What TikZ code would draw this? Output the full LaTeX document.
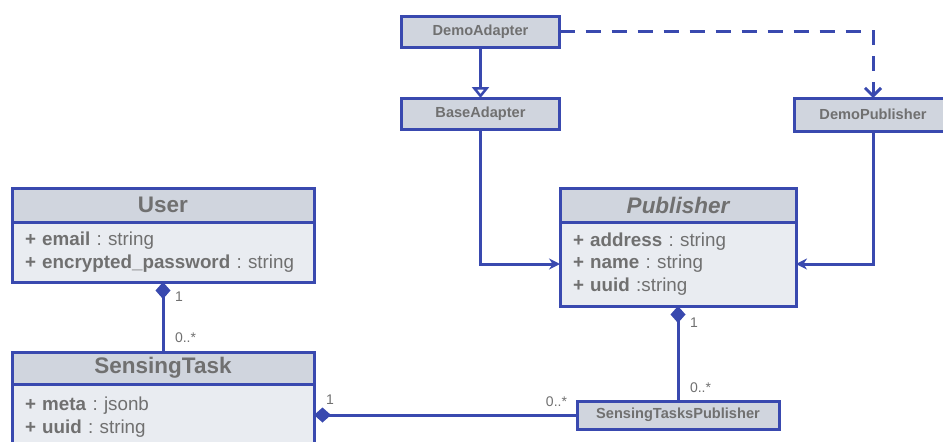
\documentclass[tikz,border=0pt]{standalone}
\usepackage{fontspec}
\setmainfont{Liberation Sans}
\usetikzlibrary{arrows.meta,positioning}
\definecolor{umlblue}{RGB}{57,73,175}
\definecolor{hdrcol}{RGB}{208,213,222}
\definecolor{bodycol}{RGB}{233,236,241}
\definecolor{txtcol}{RGB}{112,112,112}
\frenchspacing

\begin{document}
\begin{tikzpicture}[
  x=1pt, y=1pt,
  every node/.style={text=txtcol, outer sep=0pt},
  box/.style={draw=umlblue, line width=3pt, fill=hdrcol, align=center},
  small/.style={box, font=\fontsize{14.6}{17}\selectfont\bfseries, minimum width=158pt, minimum height=31pt, inner sep=0pt},
  head/.style={box, font=\fontsize{22.5}{26}\selectfont\bfseries, minimum height=34pt, inner sep=0pt},
  attrs/.style={box, fill=bodycol, font=\fontsize{18.8}{22.5}\selectfont, align=left, inner xsep=13pt, inner ysep=0pt},
  mult/.style={font=\fontsize{14}{16}\selectfont, inner sep=0pt},
  link/.style={draw=umlblue, line width=3pt},
  comp/.style={link, {Diamond[length=17pt,width=15pt]}-},
  inherit/.style={link, -{Triangle[open,length=11pt,width=17pt,line width=2.5pt]}},
  assoc/.style={link, -{Stealth[length=11pt,width=11pt]}},
  real/.style={link, dash pattern=on 15pt off 11pt, -{Straight Barb[length=8pt,width=16pt]}},
]
  \useasboundingbox (0,0) rectangle (943,-442);
  \clip (0,0) rectangle (943,-442);
  % adapters
  \node[small] (demo) at (480.5,-31.5) {DemoAdapter};
  \node[small, below=51pt of demo] (base) {BaseAdapter};
  \node[small, minimum height=33pt] (demopub) at (873,-114.5) {DemoPublisher};
  % Publisher class
  \node[head, minimum width=236pt] (pub) at (678,-205) {\itshape Publisher};
  \node[attrs, below=0pt of pub, text width=210pt, minimum height=84pt] (pubattr)
    {\textbf{+ address} : string\\\textbf{+ name} : string\\\textbf{+ uuid} :string};
  \node[small, minimum width=202pt, minimum height=28pt] (stp) at (678,-415) {SensingTasksPublisher};
  % User and SensingTask classes
  \node[head, minimum width=302pt] (user) at (163,-205) {User};
  \node[attrs, below=0pt of user, text width=276pt, minimum height=60pt] (userattr)
    {\textbf{+ email} : string\\\textbf{+ encrypted\_password} : string};
  \node[head, minimum width=302pt, minimum height=32pt] (task) at (163,-368) {SensingTask};
  \node[attrs, below=0pt of task, text width=276pt, minimum height=66pt] (taskattr)
    {\textbf{+ meta} : jsonb\\\textbf{+ uuid} : string};
  % connectors
  \draw[inherit] (demo) -- (base);
  \draw[real] (demo.east) -| (demopub.north);
  \draw[assoc] (base.south) |- (pubattr.west);
  \draw[assoc] (demopub.south) |- (pubattr.east);
  \draw[comp] (userattr.south) -- node[mult, pos=.21, right=12pt]{1} node[mult, pos=.8, right=12pt]{0..*} (task.north);
  \draw[comp] (pubattr.south) -- node[mult, pos=.18, right=12pt]{1} node[mult, pos=.86, right=12pt]{0..*} (stp.north);
  \draw[comp] (taskattr.east |- stp.west) -- node[mult, pos=0, anchor=south west, xshift=12pt, yshift=11pt]{1}
    node[mult, pos=1, anchor=south east, xshift=-10pt, yshift=8pt]{0..*} (stp.west);
\end{tikzpicture}
\end{document}
